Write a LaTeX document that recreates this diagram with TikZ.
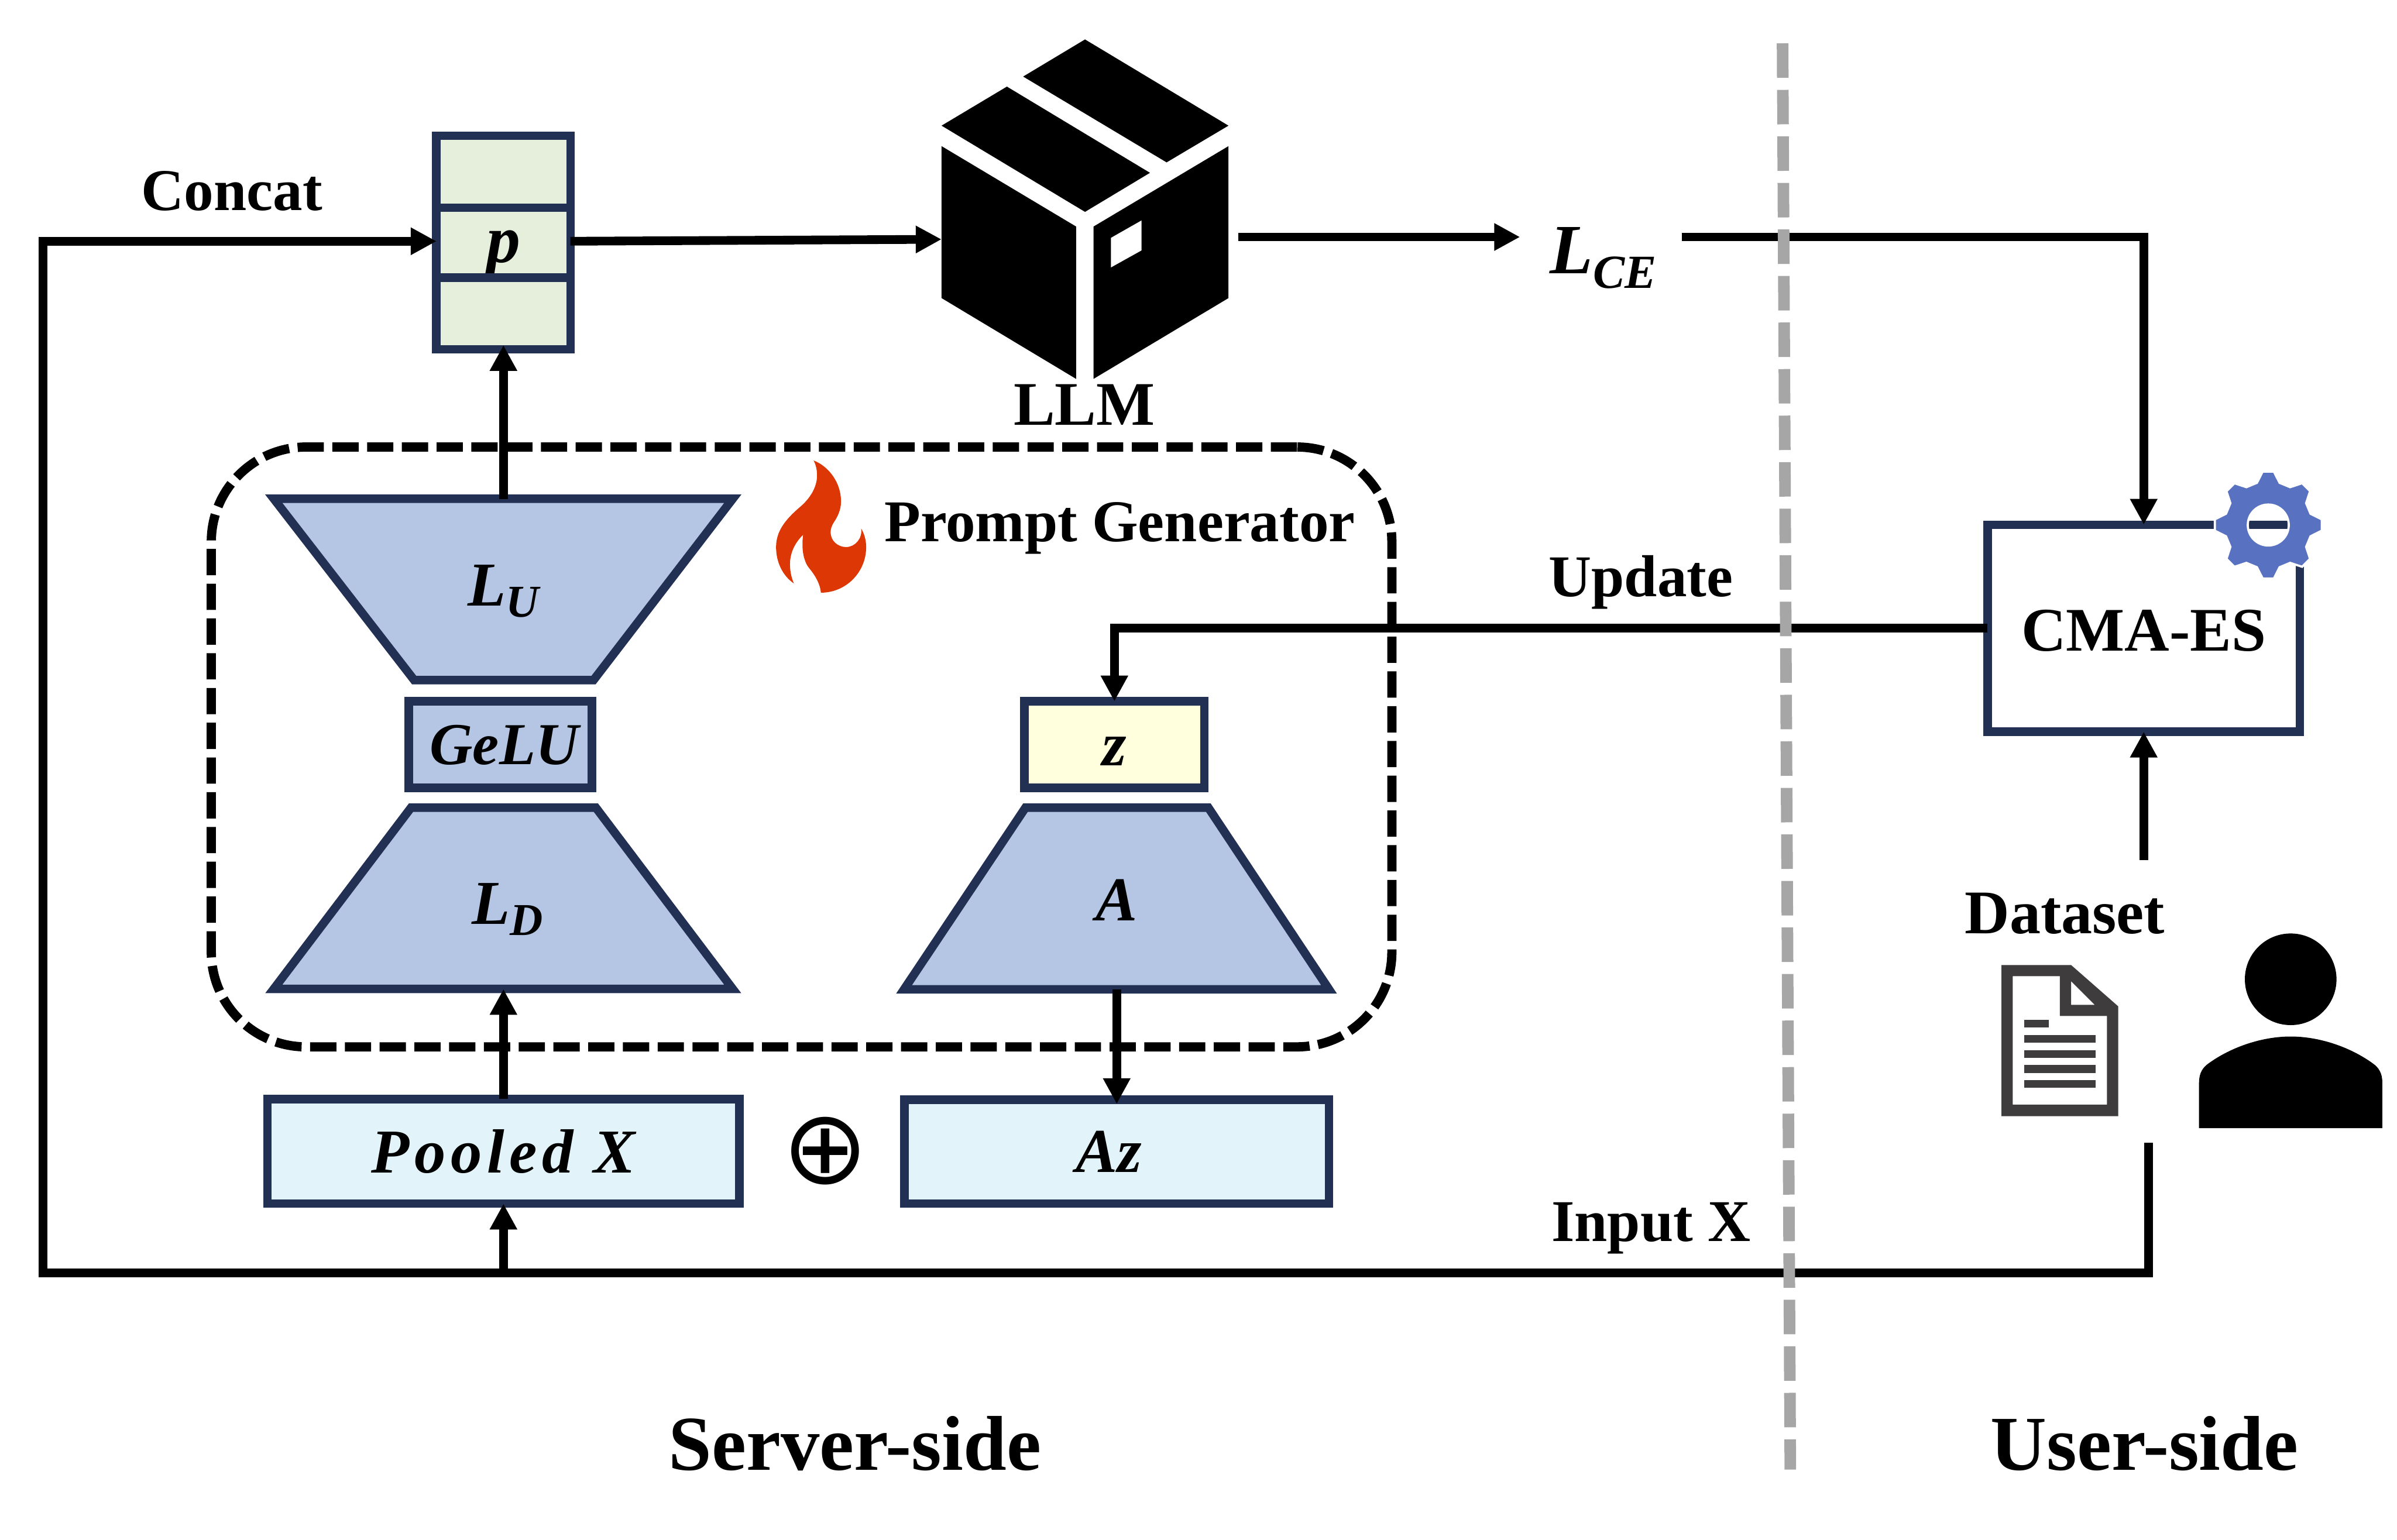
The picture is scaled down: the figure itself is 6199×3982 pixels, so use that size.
\documentclass[tikz,border=0pt]{standalone}
\usepackage{fontspec}
\setmainfont{Liberation Serif}
\newfontfamily\symbface{DejaVu Sans}
\newfontfamily\poolface[LetterSpace=8]{Liberation Serif}
\usetikzlibrary{positioning,arrows.meta}
\definecolor{navy}{HTML}{223053}
\definecolor{bluefill}{HTML}{B5C6E4}
\definecolor{greenfill}{HTML}{E6EFDB}
\definecolor{cyanfill}{HTML}{E2F4F9}
\definecolor{yellowfill}{HTML}{FFFFDD}
\definecolor{flame}{HTML}{DD3705}
\definecolor{gearblue}{HTML}{5872C1}
\definecolor{docgray}{HTML}{3E3C3D}
\definecolor{divgray}{HTML}{A6A6A6}
\newcommand{\pxu}{0.14226pt}
\newcommand{\subl}[2]{#1\raisebox{-4.1pt}{\fontsize{16.8}{16.8}\selectfont #2}}

\begin{document}
\begin{tikzpicture}[
  x=0.005cm, y=-0.005cm, font=\bfseries, node distance=0pt,
  lab/.style={font=\fontsize{21.8}{24}\selectfont\bfseries, inner sep=0pt, anchor=base},
  labb/.style={lab, font=\fontsize{22.85}{24}\selectfont\bfseries},
  biglab/.style={font=\fontsize{28.6}{30}\selectfont\bfseries, inner sep=0pt, anchor=base},
  mth/.style={font=\fontsize{23}{25}\selectfont\bfseries\itshape},
  tb/.style={text height=#1, text depth=0pt},
  box/.style={rectangle, draw=navy, line width=3.13pt, inner sep=0pt, outer sep=0pt, mth},
  trapline/.style={draw=navy, fill=bluefill, line width=3.13pt},
  trap/.style={inner sep=0pt, outer sep=0pt, minimum width=1187*\pxu, minimum height=469*\pxu, mth},
  cell/.style={box, fill=greenfill, minimum width=348*\pxu},
  arr/.style={-{Triangle[length=9.5pt,width=9.5pt]}, line width=3.2pt},
  pgbox/.style={draw, line width=3.4pt, dash pattern=on 9.67pt off 3.13pt, rounded corners=34.9pt,
    inner sep=0pt, outer sep=0pt, minimum width=3056*\pxu, minimum height=1553*\pxu}]
  \useasboundingbox (0,0) rectangle (6199,3982);

  \node[pgbox] (gen) at (2073,1932) {};

  \node[cell, minimum height=186*\pxu] (ptop) at (1302,444) {};
  \node[cell, minimum height=181*\pxu, below=of ptop, tb=14.7pt, font=\fontsize{25}{27}\selectfont\bfseries\itshape] (pmid) {p};
  \node[cell, minimum height=186*\pxu, below=of pmid] (pbot) {};

  \draw[trapline] (708,1290) -- (1895,1290) -- (1535,1759) -- (1071,1759) -- cycle;
  \draw[trapline] (1063,2089) -- (1541,2089) -- (1895,2558) -- (708,2558) -- cycle;
  \draw[trapline] (2652,2089) -- (3125,2089) -- (3437,2559) -- (2338,2559) -- cycle;

  \node[trap, tb=12.2pt] (lu) at (1302,1525) {\subl{L}{U}};
  \node[box, fill=bluefill, minimum width=474*\pxu, minimum height=224*\pxu, tb=14.8pt, font=\fontsize{21.9}{24}\selectfont\bfseries\itshape] (gelu) at (1294,1926) {\hspace{2.8pt}GeLU};
  \node[trap, tb=19.1pt] (ld) at (1302,2324) {\hspace{3pt}\subl{L}{D}};
  \node[box, fill=yellowfill, minimum width=466*\pxu, minimum height=224*\pxu, tb=15.4pt] (z) at (2882,1926) {z};
  \node[trap, minimum width=1099*\pxu, minimum height=470*\pxu, tb=16.5pt] (a) at (2888,2324) {A};
  \node[box, fill=cyanfill, minimum width=1222*\pxu, minimum height=271*\pxu, tb=15.8pt] (pooled) at (1302,2978) {\poolface Pooled X};
  \node[box, fill=cyanfill, minimum width=1099*\pxu, minimum height=269*\pxu, tb=15.2pt] (az) at (2888,2979) {Az\kern5.7pt\null};
  \node[box, minimum width=808*\pxu, minimum height=536*\pxu, tb=16.8pt, font=\fontsize{22.85}{24}\selectfont\bfseries] (cma) at (5544,1625) {CMA-ES};
  \node[font=\fontsize{38}{39}\selectfont\symbface, inner sep=0pt] (plus) at (2135,2977) {⊕};

  \node[lab] (concat) at (600,544) {Concat};
  \node[labb] (llm) at (2804,1099) {LLM};
  \node[lab, anchor=base west] (pg) at (2286,1400) {Prompt Generator};
  \node[lab, anchor=base west] (update) at (4004,1543) {Update};
  \node[lab, anchor=base west] (input) at (4011,3211) {Input X};
  \node[labb] (dataset) at (5340,2415) {Dataset};
  \node[biglab] (server) at (2211,3803) {Server-side};
  \node[biglab] (user) at (5546,3803) {User-side};
  \node[mth, font=\fontsize{26}{28}\selectfont\bfseries\itshape, inner sep=0pt, anchor=base west] (lce) at (4007,707)
    {L\raisebox{-5.4pt}{\fontsize{17.5}{17.5}\selectfont CE}};

  \fill (2806,102) -- (3177,325) -- (3017,420) -- (2646,198) -- cycle;
  \fill (2604,224) -- (2974,447) -- (2806,548) -- (2435,325) -- cycle;
  \fill (2435,378) -- (2783,586) -- (2783,980) -- (2435,771) -- cycle;
  \fill[even odd rule] (2828,586) -- (3177,378) -- (3177,771) -- (2828,980) -- cycle
    (2873,615) -- (2952,570) -- (2952,648) -- (2873,692) -- cycle;

  \fill[flame] (2104,1191) .. controls (2145,1207) and (2175,1250) .. (2175,1297)
    .. controls (2175,1320) and (2165,1338) .. (2157,1350)
    .. controls (2151,1359) and (2148,1368) .. (2148,1377)
    .. controls (2148,1398) and (2166,1415) .. (2188,1415)
    .. controls (2212,1415) and (2231,1392) .. (2227,1367)
    .. controls (2235,1380) and (2240,1397) .. (2240,1415)
    .. controls (2240,1480) and (2188,1533) .. (2123,1533)
    .. controls (2121,1510) and (2108,1488) .. (2093,1470)
    .. controls (2078,1452) and (2072,1420) .. (2077,1383)
    .. controls (2055,1405) and (2043,1430) .. (2043,1460)
    .. controls (2043,1478) and (2047,1495) .. (2053,1509)
    .. controls (2025,1490) and (2007,1455) .. (2007,1415)
    .. controls (2007,1375) and (2030,1345) .. (2067,1313)
    .. controls (2095,1290) and (2113,1260) .. (2113,1230)
    .. controls (2113,1215) and (2110,1202) .. (2104,1191) -- cycle;

  \begin{scope}[shift={(5866,1358)}]
    \draw[white, line width=0.8pt, fill=gearblue, even odd rule] (-15:113)
      foreach \a in {0,45,...,315} { -- (\a-15:113) -- (\a-6:139) -- (\a+6:139) -- (\a+15:113) } -- cycle
      (0,0) circle[radius=53];
  \end{scope}

  \fill[docgray, even odd rule] (5176,2496) -- (5356,2496) -- (5478,2603) -- (5478,2887) -- (5176,2887) -- cycle
    (5205,2525) -- (5327,2525) -- (5327,2628) -- (5449,2628) -- (5449,2857) -- (5205,2857) -- cycle
    (5356,2538) -- (5417,2599) -- (5356,2599) -- cycle;
  \fill[docgray] (5235,2638) rectangle (5298,2657);
  \foreach \ya in {2677,2716,2755,2794} {
    \fill[docgray] (5235,\ya) rectangle (5420,\ya+20);
  }

  \fill (5924,2533) circle[radius=118.5];
  \fill (5687,2918) -- (5687,2800) .. controls (5687,2775) and (5697,2761) .. (5711,2751)
    .. controls (5770,2708) and (5850,2681) .. (5924,2681)
    .. controls (5998,2681) and (6078,2708) .. (6137,2751)
    .. controls (6151,2761) and (6161,2775) .. (6161,2800) -- (6161,2918) -- cycle;

  \coordinate (pin) at (1129,624);
  \coordinate (pout) at (1475,624);
  \coordinate (llmin) at (2435,619);
  \coordinate (llmout) at (3202,613);
  \coordinate (lcein) at (3931,613);
  \coordinate (lceout) at (4349,613);
  \coordinate (cmatop) at (5544,1357);
  \coordinate (cmaleft) at (5140,1625);
  \coordinate (dataout) at (5544,2224);
  \coordinate (userout) at (5557,2956);
  \coordinate (bus) at (111,3293);
  \coordinate (divtop) at (4610,112);
  \coordinate (divbot) at (4630,3801);

  \draw[arr] (userout) |- (bus) |- (pin);
  \draw[arr] (pooled |- bus) -- (pooled.south);
  \draw[arr] (pooled.north) -- (ld.south);
  \draw[arr, shorten >=-11*\pxu] (lu.north) -- (pbot.south);
  \draw[arr] (pout) -- (llmin);
  \draw[arr] (llmout) -- (lcein);
  \draw[arr] (lceout) -| (cmatop);
  \draw[arr] (cmaleft) -| (z.north);
  \draw[arr, shorten >=-11*\pxu] (a.south) -- (az.north);
  \draw[arr] (dataout) -- (cma.south);
  \draw[divgray, line width=4.27pt, dash pattern=on 12.7pt off 4.44pt] (divtop) -- (divbot);
\end{tikzpicture}
\end{document}
